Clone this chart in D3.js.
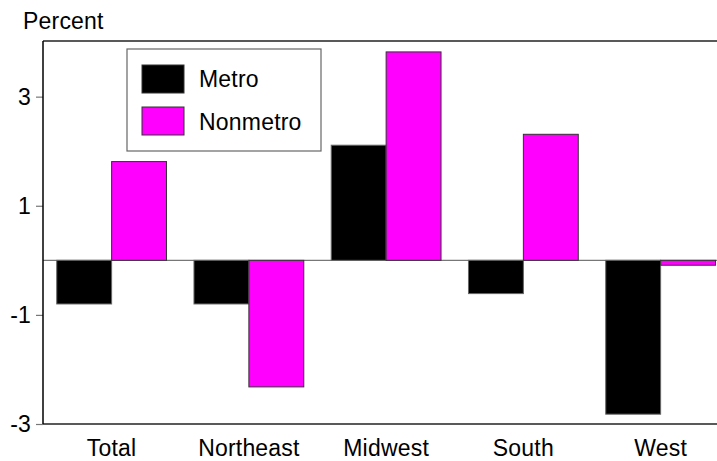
<!DOCTYPE html>
<html>
<head>
<meta charset="utf-8">
<script src="https://cdn.jsdelivr.net/npm/d3@7"></script>
<style>
  html, body { margin: 0; padding: 0; background: #fff; }
  svg { display: block; }
  text { font-family: Arial, "Liberation Sans", Helvetica, sans-serif; fill: #000; letter-spacing: 0.2px; }
</style>
</head>
<body>
<script>
const categories = ["Total", "Northeast", "Midwest", "South", "West"];
const seriesNames = ["Metro", "Nonmetro"];
const metro = [-0.80, -0.80, 2.11, -0.61, -2.82];
const nonmetro = [1.81, -2.32, 3.82, 2.31, -0.09];
const yTicks = [3, 1, -1, -3];
const colors = ["#000000", "#ff00ff"];

(function () {
const W = 717, H = 461;
const FS = "23px";
const svg = d3.select("body").append("svg").attr("width", W).attr("height", H);

const mLeft = 43, mTop = 41, mBottom = 424;
const x = d3.scaleBand().domain(categories).range([mLeft, 729.25]).paddingInner(0.2).paddingOuter(0.1);
const xs = d3.scaleBand().domain(seriesNames).range([0, x.bandwidth()]);
const y = d3.scaleLinear().domain([-3, 4.02]).range([mBottom, mTop]);

const rows = categories.map((c, i) => ({ cat: c, vals: [metro[i], nonmetro[i]] }));

// zero line
svg.append("line").attr("x1", mLeft).attr("x2", W).attr("y1", y(0)).attr("y2", y(0))
  .attr("stroke", "#777").attr("stroke-width", 1.2);

// bars
const g = svg.append("g");
rows.forEach(r => {
  r.vals.forEach((v, j) => {
    g.append("rect")
      .attr("x", x(r.cat) + xs(seriesNames[j]))
      .attr("width", xs.bandwidth())
      .attr("y", y(Math.max(0, v)))
      .attr("height", Math.abs(y(v) - y(0)))
      .attr("fill", colors[j])
      .attr("stroke", j === 0 ? "#666" : "#333")
      .attr("stroke-width", 1);
  });
});

// frame: top and bottom lines
svg.append("line").attr("x1", mLeft).attr("x2", W).attr("y1", mTop).attr("y2", mTop)
  .attr("stroke", "#222").attr("stroke-width", 1.5);
svg.append("line").attr("x1", mLeft).attr("x2", W).attr("y1", mBottom).attr("y2", mBottom)
  .attr("stroke", "#222").attr("stroke-width", 1.5);

// y axis
const yAxis = d3.axisLeft(y).tickValues(yTicks).tickSize(7).tickPadding(5).tickFormat(d => String(d));
const ya = svg.append("g").attr("transform", `translate(${mLeft},0)`).call(yAxis);
ya.select(".domain").remove();
ya.selectAll(".tick line").attr("stroke", "#777").attr("stroke-width", 1.2);
ya.selectAll(".tick text").style("font-size", FS).attr("fill", "#000")
  .style("font-family", "Arial, 'Liberation Sans', sans-serif");
svg.append("line").attr("x1", mLeft).attr("x2", mLeft).attr("y1", mTop).attr("y2", mBottom)
  .attr("stroke", "#000").attr("stroke-width", 1.5);

// x axis labels
const xa = svg.append("g").attr("transform", `translate(0,${mBottom})`)
  .call(d3.axisBottom(x).tickSize(0).tickPadding(0));
xa.select(".domain").remove();
xa.selectAll(".tick text").attr("dy", null).attr("y", 32)
  .style("font-size", FS).attr("fill", "#000")
  .style("font-family", "Arial, 'Liberation Sans', sans-serif");

// y title
svg.append("text").attr("x", 23).attr("y", 29).style("font-size", FS).text("Percent");

// legend
const lg = svg.append("g");
lg.append("rect").attr("x", 127).attr("y", 49).attr("width", 194).attr("height", 102)
  .attr("fill", "#fff").attr("stroke", "#666").attr("stroke-width", 1.2);
seriesNames.forEach((n, i) => {
  lg.append("rect").attr("x", 142).attr("y", 65 + i * 42).attr("width", 42).attr("height", 28)
    .attr("fill", colors[i]).attr("stroke", "#333").attr("stroke-width", 1);
  lg.append("text").attr("x", 199).attr("y", 87 + i * 43).style("font-size", FS).text(n);
});
})();
</script>
</body>
</html>
